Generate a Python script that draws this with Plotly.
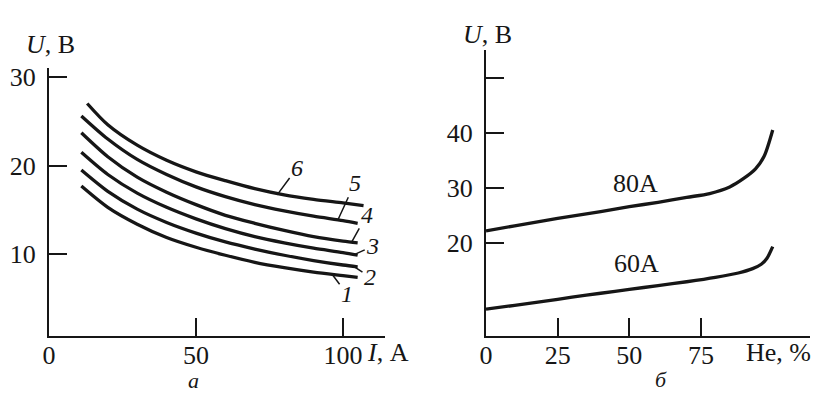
import plotly.graph_objects as go

# ---- Panel a: U(I) for curves 1..6 ----
I_vals = [11, 20, 30, 40, 50, 60, 70, 80, 90, 100, 105]
I_vals6 = [13, 20, 30, 40, 50, 60, 70, 80, 90, 100, 107]
U1 = [17.7, 15.3, 13.4, 11.9, 10.8, 9.9, 9.1, 8.5, 8.0, 7.6, 7.4]
U2 = [19.5, 17.1, 15.1, 13.6, 12.4, 11.4, 10.6, 9.9, 9.3, 8.8, 8.6]
U3 = [21.5, 19.0, 16.9, 15.3, 14.0, 12.9, 12.0, 11.3, 10.7, 10.2, 9.9]
U4 = [23.7, 21.0, 18.7, 17.0, 15.6, 14.4, 13.5, 12.7, 12.0, 11.5, 11.3]
U5 = [25.6, 23.0, 20.7, 19.0, 17.6, 16.5, 15.6, 14.9, 14.3, 13.8, 13.5]
U6 = [27.0, 24.6, 22.3, 20.6, 19.3, 18.3, 17.4, 16.7, 16.2, 15.8, 15.5]
curve_labels = ["1", "2", "3", "4", "5", "6"]

# ---- Panel б: U(He%) ----
He80 = [0, 10, 20, 30, 40, 50, 60, 70, 78, 85, 90, 94, 97, 100]
U80 = [22.2, 23.1, 24.0, 24.9, 25.7, 26.6, 27.4, 28.3, 29.0, 30.2, 31.8, 33.5, 35.8, 40.6]
He60 = [0, 10, 20, 30, 40, 50, 60, 70, 80, 88, 93, 96, 98, 100]
U60 = [7.9, 8.6, 9.3, 10.1, 10.8, 11.5, 12.2, 12.9, 13.7, 14.5, 15.3, 16.1, 17.2, 19.3]

xa_ticks = [0, 50, 100]
ya_ticks = [10, 20, 30]
xb_ticks = [0, 25, 50, 75]
yb_ticks = [20, 30, 40, 50]
yb_text = ["20", "30", "40", ""]

FONT = "Liberation Serif"
INK = "#161616"
W, H = 817, 394

fig = go.Figure()
line = dict(color=INK, width=3.3, shape="spline", smoothing=0.8)
for xs, ys in [(I_vals, U1), (I_vals, U2), (I_vals, U3), (I_vals, U4), (I_vals, U5), (I_vals6, U6)]:
    fig.add_trace(go.Scatter(x=xs, y=ys, mode="lines", line=line, xaxis="x", yaxis="y",
                             showlegend=False, hoverinfo="skip"))
for xs, ys in [(He80, U80), (He60, U60)]:
    fig.add_trace(go.Scatter(x=xs, y=ys, mode="lines", line=line, xaxis="x2", yaxis="y2",
                             showlegend=False, hoverinfo="skip"))

axis_common = dict(showline=True, linecolor=INK, linewidth=2, ticks="inside", ticklen=18,
                   tickwidth=2, tickcolor=INK, showgrid=False, zeroline=False, automargin=False,
                   tickfont=dict(family=FONT, size=26, color=INK), fixedrange=True)

fig.update_layout(
    width=W, height=H, margin=dict(l=0, r=0, t=0, b=0, autoexpand=False),
    paper_bgcolor="white", plot_bgcolor="white",
    xaxis=dict(domain=[49 / W, 385 / W], range=[0, 114.3], tickvals=xa_ticks, anchor="y",
               ticklabelstandoff=-5, **axis_common),
    yaxis=dict(domain=[1 - 336 / H, 1 - 68 / H], range=[0.8, 31.0], tickvals=ya_ticks, anchor="x",
               ticklabelstandoff=6, **axis_common),
    xaxis2=dict(domain=[486 / W, 810 / W], range=[0, 113], tickvals=xb_ticks, anchor="y2",
                ticklabelstandoff=-5, **axis_common),
    yaxis2=dict(domain=[1 - 336 / H, 1 - 50 / H], range=[3.0, 55.2], tickvals=yb_ticks, ticktext=yb_text,
                anchor="x2", ticklabelstandoff=6, **axis_common),
)

ann = []
def ptext(text, px, py, size=26, italic=False):
    t = f"<i>{text}</i>" if italic else text
    ann.append(dict(text=t, x=px / W, y=1 - py / H, xref="paper", yref="paper",
                    xanchor="center", yanchor="middle", showarrow=False,
                    font=dict(family=FONT, size=size, color=INK)))

ptext("<i>U</i>, В", 50, 45)
ptext("<i>U</i>, В", 487, 35)
ptext("<i>I</i>, А", 388, 352)
ptext("He, %", 778, 352)
ptext("а", 193, 380, size=22, italic=True)
ptext("б", 661, 379, size=22, italic=True)

# curve number labels with leader lines: (label, I, U on curve, ax, ay)
leaders = [
    (curve_labels[5], 77.6, 16.7, 20, -27),
    (curve_labels[4], 98.3, 13.9, 17, -37),
    (curve_labels[3], 103.0, 11.4, 15, -27),
    (curve_labels[2], 104.0, 10.0, 18, -8),
    (curve_labels[1], 103.4, 8.7, 17, 11),
    (curve_labels[0], 96.3, 7.75, 15, 20),
]
for lab, xv, yv, dx, dy in leaders:
    ann.append(dict(text=f"<i>{lab}</i>", x=xv, y=yv, xref="x", yref="y", ax=dx, ay=dy,
                    showarrow=True, arrowhead=0, arrowwidth=1.5, arrowcolor=INK, standoff=0,
                    font=dict(family=FONT, size=24, color=INK)))

ann.append(dict(text="80A", x=52, y=30.9, xref="x2", yref="y2", showarrow=False,
                font=dict(family=FONT, size=26, color=INK)))
ann.append(dict(text="60A", x=52.5, y=16.2, xref="x2", yref="y2", showarrow=False,
                font=dict(family=FONT, size=26, color=INK)))

fig.update_layout(annotations=ann)
fig.write_html("out.html", config={"displayModeBar": False},
               post_script="document.body.style.margin='0';document.body.style.overflow='hidden';")
